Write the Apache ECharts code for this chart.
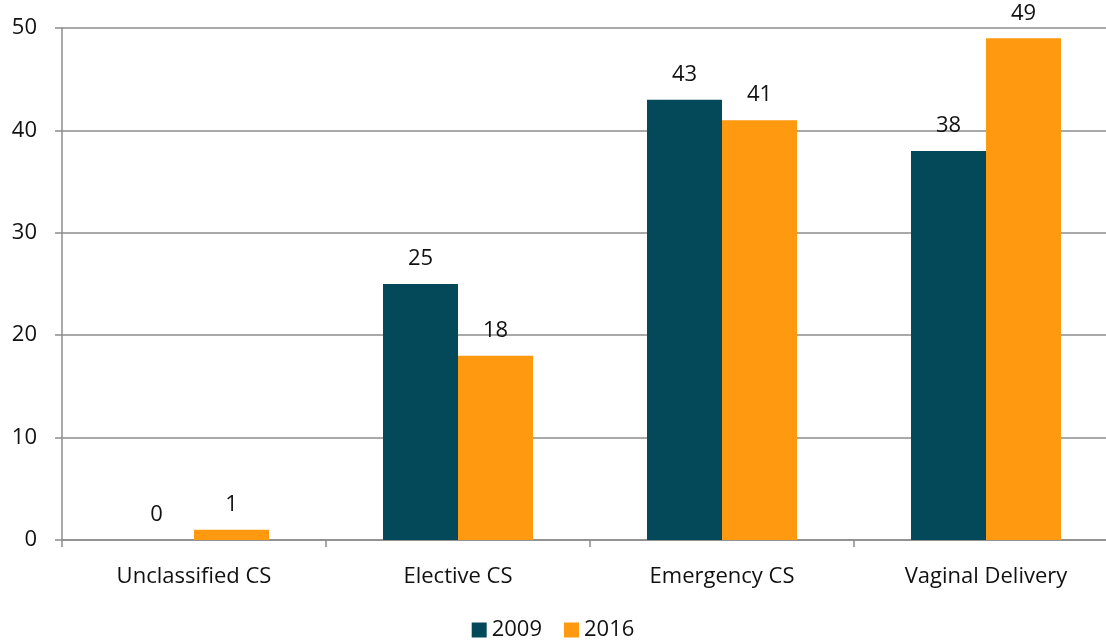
<!DOCTYPE html>
<html>
<head>
<meta charset="utf-8">
<script src="https://cdn.jsdelivr.net/npm/echarts@6/dist/echarts.min.js"></script>
<style>
  html, body { margin: 0; padding: 0; background: #fff; }
  #chart { width: 1106px; height: 642px; }
</style>
</head>
<body>
<div id="chart"></div>
<script>
const categories = ['Unclassified CS', 'Elective CS', 'Emergency CS', 'Vaginal Delivery']
const values2009 = [0, 25, 43, 38]
const values2016 = [1, 18, 41, 49]

const font = '"Open Sans", "Noto Sans", sans-serif'
const chart = echarts.init(document.getElementById('chart'), null, { renderer: 'canvas' })

function barLabel() {
  return { show: true, position: 'top', distance: 14, color: '#111', fontSize: 22, fontFamily: font }
}

chart.setOption({
  backgroundColor: '#fff',
  animation: false,
  textStyle: { fontFamily: font },
  legend: {
    top: 614,
    left: 'center',
    itemWidth: 15,
    itemHeight: 15,
    itemGap: 22,
    icon: 'rect',
    textStyle: { color: '#111', fontSize: 22, fontFamily: font },
    data: ['2009', '2016']
  },
  grid: { left: 62, top: 28, width: 1056, height: 512, outerBoundsMode: 'none' },
  xAxis: {
    type: 'category',
    data: categories,
    axisLine: { lineStyle: { color: '#8c8c8c', width: 1.5 } },
    axisTick: { show: true, length: 7, lineStyle: { color: '#8c8c8c', width: 1.5 } },
    axisLabel: { color: '#111', fontSize: 22, margin: 26, fontFamily: font }
  },
  yAxis: {
    type: 'value',
    min: 0,
    max: 50,
    interval: 10,
    axisLine: { show: true, lineStyle: { color: '#8c8c8c', width: 1.5 } },
    axisTick: { show: true, length: 7, lineStyle: { color: '#8c8c8c', width: 1.5 } },
    splitLine: { lineStyle: { color: '#8c8c8c', width: 1.5 } },
    axisLabel: { color: '#111', fontSize: 22, margin: 25, fontFamily: font }
  },
  series: [
    {
      name: '2009',
      type: 'bar',
      data: values2009,
      barWidth: 75,
      barGap: '0%',
      itemStyle: { color: '#03495a' },
      label: barLabel()
    },
    {
      name: '2016',
      type: 'bar',
      data: values2016,
      barWidth: 75,
      barGap: '0%',
      itemStyle: { color: '#ff990f' },
      label: barLabel()
    }
  ]
})
</script>
</body>
</html>
